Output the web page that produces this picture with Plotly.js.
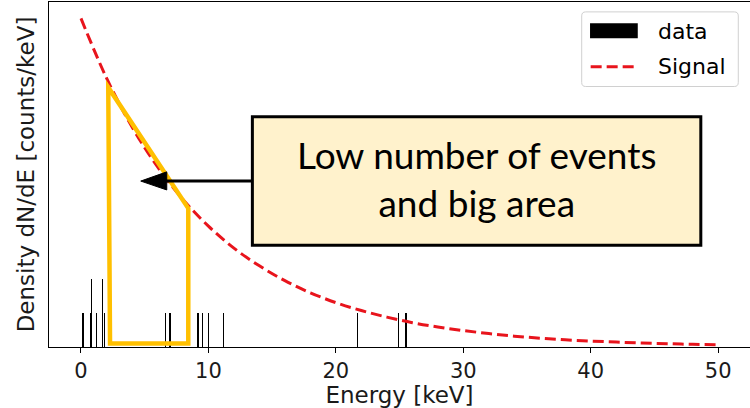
<!DOCTYPE html>
<html>
<head>
<meta charset="utf-8">
<script src="https://cdn.plot.ly/plotly-3.0.1.min.js"></script>
<style>html,body{margin:0;padding:0;background:#fff;}#chart{width:750px;height:408px;}</style>
</head>
<body>
<div id="chart"></div>
<script>
// Signal curve (density) at energies every 2 keV
var signalEnergy = [0,2,4,6,8,10,12,14,16,18,20,22,24,26,28,30,32,34,36,38,40,42,44,46,48,50];
var signalDensity = [0.1000,0.0819,0.0670,0.0549,0.0449,0.0368,0.0301,0.0247,0.0202,0.0165,0.0135,0.0111,0.0091,0.0074,0.0061,0.0050,0.0041,0.0033,0.0027,0.0022,0.0018,0.0015,0.0012,0.0010,0.0008,0.0007];

// Observed events (narrow histogram bins) : energy and density height
var dataEnergy = [0.16,0.73,0.84,1.23,1.67,1.86,6.62,6.99,7.05,9.18,9.55,10.02,11.20,21.69,24.90,25.51];
var dataDensity = [0.0103,0.0103,0.0206,0.0103,0.0206,0.0103,0.0103,0.0103,0.0103,0.0103,0.0103,0.0103,0.0103,0.0103,0.0103,0.0103];

var xTicks = [0,10,20,30,40,50];
var xTickLabels = ['0','10','20','30','40','50'];
var legendNames = ['data','Signal'];

var traces = [
  {type:'bar', name:legendNames[0], x:dataEnergy, y:dataDensity, width:0.09,
   marker:{color:'#000000', line:{width:0}}, showlegend:false, hoverinfo:'x'},
  {type:'scatter', mode:'lines', name:legendNames[1], x:signalEnergy, y:signalDensity,
   line:{color:'#e8141c', width:3, dash:'11px,5px', shape:'spline', smoothing:1}, showlegend:false}
];

var shapes = [
  // yellow highlighted area
  {type:'path', xref:'x', yref:'y', layer:'above',
   path:'M2.14,0.0790 L2.28,0.0011 L8.42,0.0011 L8.42,0.0422 Z',
   line:{color:'#FFC000', width:4.5}, fillcolor:'rgba(0,0,0,0)'},
  // arrow shaft
  {type:'line', xref:'x', yref:'y', layer:'above', x0:6.6, x1:13.45, y0:0.0505, y1:0.0505,
   line:{color:'#000000', width:3}},
  // arrow head
  {type:'path', xref:'x', yref:'y', layer:'above',
   path:'M4.69,0.0505 L6.73,0.0533 L6.73,0.0478 Z', fillcolor:'#000000', line:{color:'#000000', width:1}},
  // text box
  {type:'rect', xref:'x', yref:'y', layer:'above', x0:13.45, x1:48.64, y0:0.0310, y1:0.0701,
   fillcolor:'#FFF2CC', line:{color:'#000000', width:3}},
  // legend frame
  {type:'path', xref:'paper', yref:'paper', layer:'above',
   path:'M0.7656,0.9713 L0.9776,0.9713 Q0.9833,0.9713 0.9833,0.9597 L0.9833,0.7667 Q0.9833,0.7551 0.9776,0.7551 L0.7656,0.7551 Q0.7599,0.7551 0.7599,0.7667 L0.7599,0.9597 Q0.7599,0.9713 0.7656,0.9713 Z',
   fillcolor:'rgba(255,255,255,0.8)', line:{color:'#d0d0d0', width:1}},
  // legend patch for data
  {type:'rect', xref:'paper', yref:'paper', layer:'above', x0:0.7718, x1:0.8399, y0:0.8948, y1:0.9383,
   fillcolor:'#000000', line:{width:0}},
  // legend line for signal
  {type:'line', xref:'paper', yref:'paper', layer:'above', x0:0.7727, x1:0.8359, y0:0.8125, y1:0.8125,
   line:{color:'#e8141c', width:3, dash:'11px,5px'}}
];

var annotations = [
  {xref:'x', yref:'y', x:31.05, y:0.0512, text:'Low number of events<br>and big area', showarrow:false,
   font:{family:'Lato', size:37, color:'#000000'}, align:'center', xanchor:'center', yanchor:'middle'},
  {xref:'paper', yref:'paper', x:0.8655, y:0.9139, text:legendNames[0], showarrow:false, xanchor:'left', yanchor:'middle',
   font:{family:'DejaVu Sans', size:22, color:'#000000'}},
  {xref:'paper', yref:'paper', x:0.8655, y:0.8125, text:legendNames[1], showarrow:false, xanchor:'left', yanchor:'middle',
   font:{family:'DejaVu Sans', size:22, color:'#000000'}}
];

var layout = {
  width:750, height:408,
  margin:{l:49, r:0, t:2, b:61, pad:0},
  paper_bgcolor:'#ffffff', plot_bgcolor:'#ffffff',
  showlegend:false,
  bargap:0,
  font:{family:'DejaVu Sans', color:'#000000'},
  xaxis:{range:[-2.51,52.5], tickvals:xTicks, ticktext:xTickLabels, ticks:'outside', ticklen:5, tickwidth:1,
         tickcolor:'#000000', showgrid:false, zeroline:false, showline:true, linecolor:'#000000', linewidth:1,
         mirror:true, tickfont:{family:'DejaVu Sans', size:21, color:'#1a1a1a'},
         title:{text:'Energy [keV]', font:{family:'DejaVu Sans', size:23, color:'#1a1a1a'}, standoff:3}, automargin:false},
  yaxis:{range:[0,0.105], showticklabels:false, ticks:'', showgrid:false, zeroline:false, showline:true,
         linecolor:'#000000', linewidth:1, mirror:false,
         title:{text:'Density dN/dE [counts/keV]', font:{family:'DejaVu Sans', size:23, color:'#1a1a1a'}, standoff:6}, automargin:false},
  shapes:shapes,
  annotations:annotations
};

Plotly.newPlot('chart', traces, layout, {staticPlot:true, displayModeBar:false});
</script>
</body>
</html>
